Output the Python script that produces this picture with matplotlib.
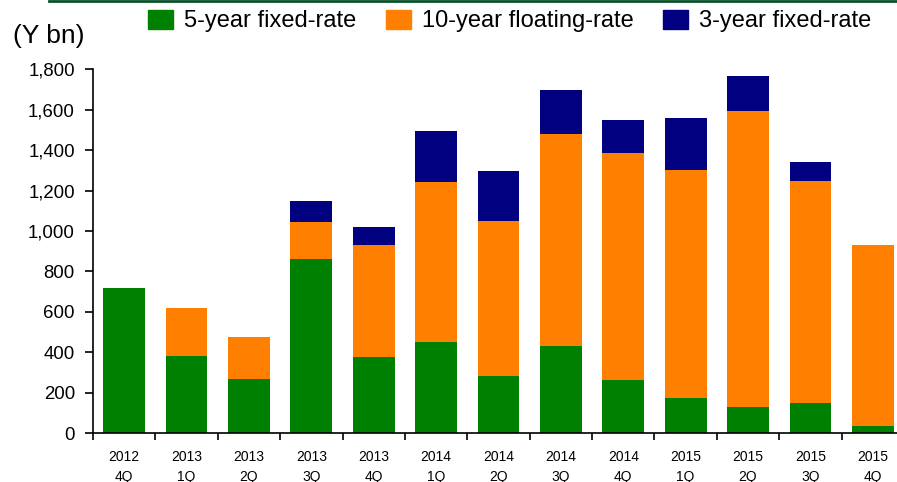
import matplotlib
matplotlib.use("Agg")
import matplotlib.pyplot as plt
import numpy as np
from matplotlib.patches import Patch
from matplotlib.lines import Line2D

plt.rcParams['font.family'] = ['Liberation Sans', 'DejaVu Sans']

categories = ["2012\n4Q", "2013\n1Q", "2013\n2Q", "2013\n3Q", "2013\n4Q", "2014\n1Q", "2014\n2Q",
              "2014\n3Q", "2014\n4Q", "2015\n1Q", "2015\n2Q", "2015\n3Q", "2015\n4Q"]
fixed5 = [720, 380, 265, 860, 375, 450, 280, 430, 260, 175, 130, 150, 35]
float10 = [0, 240, 210, 185, 555, 790, 770, 1048, 1128, 1125, 1465, 1095, 895]
fixed3 = [0, 0, 0, 105, 90, 255, 245, 222, 162, 260, 170, 95, 0]
yticks = [0, 200, 400, 600, 800, 1000, 1200, 1400, 1600, 1800]

c_green = "#008000"
c_orange = "#FF7F00"
c_navy = "#000080"

fig = plt.figure(figsize=(8.97, 4.82), dpi=100)
W, H = 897, 482
ax = fig.add_axes([93 / W, (H - 433) / H, (904 - 93) / W, (433 - 69.3) / H])

x = np.arange(len(categories))
w = 0.67
b1 = np.array(fixed5)
b2 = b1 + np.array(float10)
ax.bar(x, fixed5, w, color=c_green, label="5-year fixed-rate")
ax.bar(x, float10, w, bottom=b1, color=c_orange, label="10-year floating-rate")
ax.bar(x, fixed3, w, bottom=b2, color=c_navy, label="3-year fixed-rate")

ax.set_xlim(-0.5, len(categories) - 0.5)
ax.set_ylim(0, 1800)
ax.set_yticks(yticks)
ax.set_yticklabels([f"{v:,}" for v in yticks], fontsize=13.4)
ax.tick_params(axis='y', length=6, width=1.2, pad=7, direction='out')

ax.set_xticks(np.arange(len(categories) + 1) - 0.5)
ax.set_xticklabels([])
ax.tick_params(axis='x', which='major', length=5, width=1.2, direction='out')
ax.set_xticks(x, minor=True)
ax.set_xticklabels(categories, minor=True, fontsize=10, linespacing=1.55)
ax.tick_params(axis='x', which='minor', length=0, pad=12)

for s in ['top', 'right']:
    ax.spines[s].set_visible(False)
for s in ['left', 'bottom']:
    ax.spines[s].set_linewidth(1.2)

# top rule
fig.add_artist(Line2D([49 / W, 1.0], [1 - 1 / H, 1 - 1 / H], color="#0a5028", lw=2))

fig.text(13 / W, 1 - 36 / H, "(Y bn)", fontsize=19, va='center', ha='left')

handles = [Patch(color=c_green), Patch(color=c_orange), Patch(color=c_navy)]
labels = ["5-year fixed-rate", "10-year floating-rate", "3-year fixed-rate"]
fig.legend(handles, labels, loc='center left', bbox_to_anchor=(148 / W, 1 - 21 / H),
           ncol=3, frameon=False, fontsize=17, handlelength=1.06, handleheight=0.85,
           handletextpad=0.47, columnspacing=1.25, borderaxespad=0, borderpad=0)

fig.savefig("out.png", dpi=100)
